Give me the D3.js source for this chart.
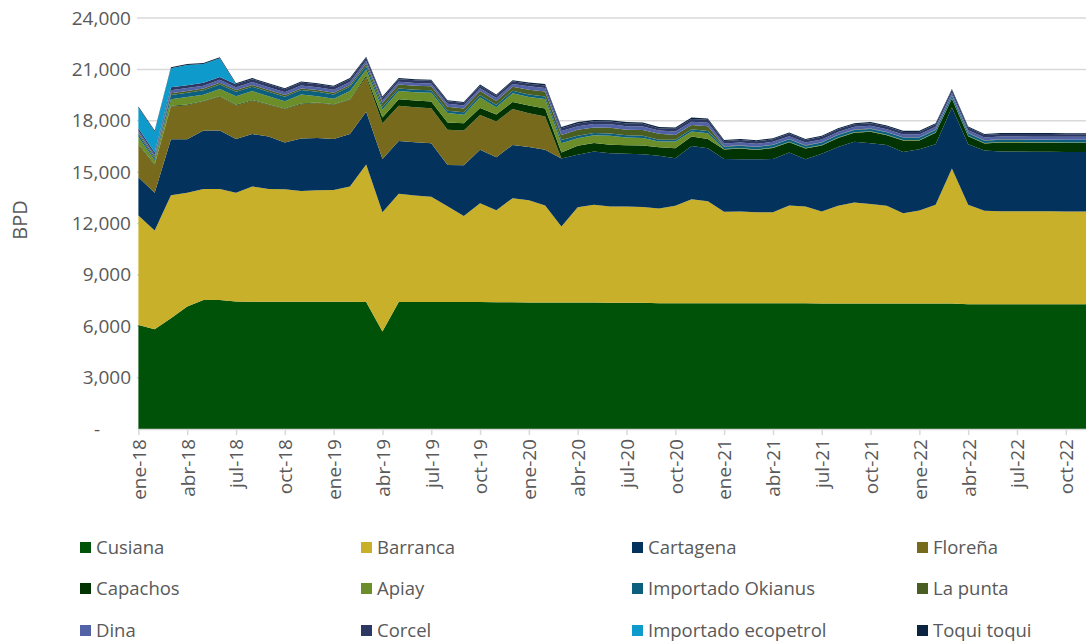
<!DOCTYPE html>
<html>
<head>
<meta charset="utf-8">
<script src="https://cdn.jsdelivr.net/npm/d3@7"></script>
<style>
  body { margin: 0; background: #fff; }
  svg text { font-family: "Open Sans", sans-serif; fill: #595959; }
</style>
</head>
<body>
<div id="chart"></div>
<script>
// Month labels
const months = ["ene", "feb", "mar", "abr", "may", "jun", "jul", "ago", "sep", "oct", "nov", "dic"];
const years = ["18", "19", "20", "21", "22"];
const periods = years.flatMap(y => months.map(m => `${m}-${y}`));

const yTicks = [0, 3000, 6000, 9000, 12000, 15000, 18000, 21000, 24000];

// Series (BPD), ene-18 .. dic-22
const cusiana = [6080,5820,6470,7150,7540,7540,7440,7430,7430,7430,7430,7430,
    7430,7430,7420,5690,7410,7410,7410,7410,7410,7410,7400,7400,
    7380,7380,7380,7380,7380,7370,7370,7370,7350,7350,7350,7350,
    7340,7340,7340,7340,7340,7340,7330,7330,7330,7330,7330,7330,
    7330,7330,7330,7290,7290,7290,7290,7290,7290,7290,7290,7290];
const barranca = [6380,5770,7180,6650,6480,6480,6360,6730,6590,6570,6470,6510,
    6530,6730,8020,6960,6320,6230,6150,5600,5030,5770,5380,6080,
    5980,5670,4440,5570,5710,5620,5620,5600,5520,5680,6070,5950,
    5340,5360,5320,5320,5710,5650,5370,5700,5890,5810,5700,5270,
    5430,5760,7880,5800,5450,5430,5430,5420,5420,5410,5410,5410];
const cartagena = [2240,2210,3270,3120,3410,3410,3140,3060,3060,2730,3060,3060,
    2980,3070,3090,3120,3090,3110,3130,2410,2960,3120,3090,3110,
    3110,3250,3970,3060,3110,3110,3080,3080,3080,2780,3110,3100,
    3090,3050,3090,3110,3090,2760,3370,3430,3550,3550,3560,3570,
    3580,3540,3560,3540,3520,3480,3480,3480,3480,3480,3480,3480];
const florena = [1890,1620,1910,1990,1690,1980,1950,1940,1850,1950,2010,2030,
    1990,1990,2010,2090,2050,2040,2040,2050,2030,2040,2080,2100,
    1970,1950,0,0,0,0,0,0,0,0,0,0,
    0,0,0,0,0,0,0,0,0,0,0,0,
    0,0,0,0,0,0,0,0,0,0,0,0];
const capachos = [40,40,40,40,40,40,40,40,40,40,40,40,
    40,40,100,330,390,390,390,430,430,400,420,400,
    450,470,350,525,500,500,500,500,505,585,545,540,
    545,625,545,645,605,625,485,535,525,665,565,675,
    505,665,515,465,405,525,525,525,525,525,525,525];
const apiay = [420,240,380,430,360,410,500,530,460,420,520,360,
    310,470,350,470,480,490,520,550,490,620,420,520,
    500,550,545,450,450,530,450,450,330,390,290,330,
    30,30,30,30,30,30,30,30,30,30,30,30,
    30,30,30,30,30,30,30,30,30,30,30,30];
const okianus = [150,100,260,260,260,260,260,260,260,260,260,260,
    260,260,200,140,140,140,140,140,140,140,140,140,
    140,140,190,135,130,130,130,130,100,100,135,135,
    140,140,140,140,140,140,140,140,140,140,140,140,
    140,140,140,140,140,140,140,140,140,140,140,140];
const laPunta = [100,100,100,100,100,100,100,100,100,100,100,100,
    100,100,150,230,230,230,230,230,230,230,230,230,
    280,300,290,350,330,330,330,330,350,290,250,280,
    20,20,20,20,20,20,20,20,20,20,20,20,
    20,20,20,20,20,20,20,20,20,20,20,20];
const dina = [130,120,170,170,170,170,170,170,170,170,170,170,
    170,170,170,170,170,170,170,170,170,170,170,170,
    200,200,230,210,200,200,200,200,195,195,195,200,
    165,165,165,165,165,165,165,165,165,165,165,165,
    165,165,165,165,165,165,165,165,165,165,165,165];
const corcel = [130,120,170,170,170,170,170,170,170,170,170,170,
    170,170,170,150,150,150,150,150,150,150,150,150,
    150,150,160,160,160,160,160,160,120,160,160,170,
    150,150,150,150,150,150,150,150,150,150,150,150,
    150,150,150,150,150,150,150,150,150,150,150,150];
const ecopetrol = [1210,1230,1110,1180,1090,1090,0,0,0,0,0,0,
    0,0,0,0,0,0,0,0,0,0,0,0,
    0,0,0,0,0,0,0,0,0,0,0,0,
    0,0,0,0,0,0,0,0,0,0,0,0,
    0,0,0,0,0,0,0,0,0,0,0,0];
const toqui = [60,60,60,60,60,60,60,60,60,60,60,60,
    60,60,60,60,60,60,60,60,60,60,60,60,
    80,80,80,80,80,80,80,80,80,80,80,80,
    60,60,60,60,60,60,60,60,60,60,60,60,
    60,60,60,60,60,60,60,60,60,60,60,60];

const seriesNames = ["Cusiana", "Barranca", "Cartagena", "Floreña", "Capachos", "Apiay",
    "Importado Okianus", "La punta", "Dina", "Corcel", "Importado ecopetrol", "Toqui toqui"];
const seriesValues = [cusiana, barranca, cartagena, florena, capachos, apiay,
    okianus, laPunta, dina, corcel, ecopetrol, toqui];
const colors = ["#005208", "#c8b02a", "#03325c", "#776a1d", "#023302", "#6b8e2b",
    "#0c607e", "#4b5e21", "#5262a6", "#2c3762", "#0e9bcc", "#0b2440"];

// Build table for d3.stack
const table = periods.map((p, i) => {
    const row = { period: p, i: i };
    seriesNames.forEach((n, k) => { row[n] = seriesValues[k][i]; });
    return row;
});

const width = 1086, height = 644;

const svg = d3.select("#chart")
    .append("svg")
    .attr("width", width)
    .attr("height", height);

const x = d3.scaleLinear()
    .domain([0, periods.length - 1])
    .range([138.4, 138.4 + 16.27 * (periods.length - 1)]);

const y = d3.scaleLinear()
    .domain([0, 24000])
    .range([429, 18]);

// Gridlines
svg.append("g")
    .selectAll("line")
    .data(yTicks.filter(d => d > 0))
    .join("line")
    .attr("x1", 137)
    .attr("x2", width)
    .attr("y1", d => y(d))
    .attr("y2", d => y(d))
    .attr("stroke", "#d9d9d9")
    .attr("stroke-width", 1.5);

// Stacked areas
const stack = d3.stack().keys(seriesNames);
const layers = stack(table);

const area = d3.area()
    .x(d => x(d.data.i))
    .y0(d => y(d[0]))
    .y1(d => y(d[1]));

svg.append("g")
    .selectAll("path")
    .data(layers)
    .join("path")
    .attr("d", area)
    .attr("fill", (d, k) => colors[k]);

// X axis
const xAxis = svg.append("g")
    .attr("transform", `translate(0,${y(0)})`)
    .call(d3.axisBottom(x)
        .tickValues(d3.range(0, periods.length, 3))
        .tickFormat(i => periods[i])
        .tickSizeInner(6)
        .tickSizeOuter(0));

xAxis.select(".domain").attr("stroke", "#d9d9d9").attr("stroke-width", 1.5);
xAxis.selectAll(".tick line").attr("stroke", "#d9d9d9").attr("stroke-width", 1.5);
xAxis.selectAll(".tick text")
    .attr("transform", "rotate(-90)")
    .attr("text-anchor", "end")
    .attr("x", -10)
    .attr("y", 0)
    .attr("dy", "0.36em")
    .style("font-size", "19px");

// Y axis
const yAxis = svg.append("g")
    .attr("transform", "translate(131,0)")
    .call(d3.axisLeft(y)
        .tickValues(yTicks)
        .tickFormat(d => d === 0 ? "-" : d3.format(",")(d))
        .tickSize(0));

yAxis.select(".domain").remove();
yAxis.selectAll(".tick text")
    .attr("x", 0)
    .style("font-size", "19px");
yAxis.selectAll(".tick")
    .filter(d => d === 0)
    .select("text")
    .attr("x", -31);

// Axis title
svg.append("text")
    .attr("transform", "translate(27,220) rotate(-90)")
    .attr("text-anchor", "middle")
    .style("font-size", "20px")
    .text("BPD");

// Legend
const legendCols = [80, 361, 632, 917];
const legendRows = [548, 589, 631];

const legend = svg.append("g")
    .selectAll("g")
    .data(seriesNames)
    .join("g")
    .attr("transform", (d, k) => `translate(${legendCols[k % 4]},${legendRows[Math.floor(k / 4)]})`);

legend.append("rect")
    .attr("x", 0)
    .attr("y", -6)
    .attr("width", 11)
    .attr("height", 11)
    .attr("fill", (d, k) => colors[k]);

legend.append("text")
    .attr("x", 16)
    .attr("dy", "0.35em")
    .style("font-size", "18.5px")
    .text(d => d);
</script>
</body>
</html>
